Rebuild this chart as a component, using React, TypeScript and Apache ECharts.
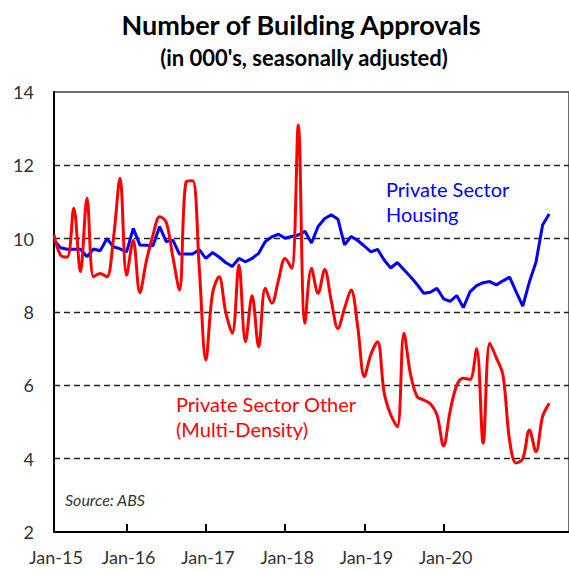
import React, { useEffect, useRef } from "react";
import * as echarts from "echarts";

// Month-end categories, Jan-15 .. Apr-21 (data), plus a few empty months so the plot runs past the right edge
const monthNames = ["Jan","Feb","Mar","Apr","May","Jun","Jul","Aug","Sep","Oct","Nov","Dec"];
const months: string[] = [];
for (let y = 15; y <= 21; y++) {
  for (let m = 0; m < 12; m++) {
    if (months.length < 79) months.push(`${monthNames[m]}-${y}`);
  }
}

// Tick labels and the category index each sits on (1 Jan falls just after each December month-end)
const tickLabels = ["Jan-15", "Jan-16", "Jan-17", "Jan-18", "Jan-19", "Jan-20"];
const tickIndex = [0, 11, 23, 35, 47, 59];

// Private Sector Housing (000's)
const housing = [
  9.95, 9.75, 9.71, 9.71, 9.71, 9.51, 9.72, 9.67, 10.0, 9.78, 9.72, 9.64,
  10.28, 9.83, 9.82, 9.81, 10.33, 9.92, 9.96, 9.58, 9.58, 9.58, 9.7, 9.46,
  9.62, 9.5, 9.35, 9.24, 9.46, 9.37, 9.46, 9.6, 9.92, 10.05, 10.12, 10.01,
  10.06, 10.1, 10.2, 9.88, 10.33, 10.55, 10.65, 10.53, 9.83, 10.06, 9.95, 9.8,
  9.64, 9.71, 9.42, 9.2, 9.35, 9.15, 8.96, 8.75, 8.51, 8.54, 8.65, 8.36,
  8.29, 8.45, 8.12, 8.55, 8.72, 8.8, 8.83, 8.74, 8.85, 8.95, 8.55, 8.16,
  8.82, 9.36, 10.37, 10.67,
];

// Private Sector Other (Multi-Density) (000's)
const other = [
  10.1, 9.55, 9.5, 10.83, 9.1, 11.1, 8.96, 9.05, 8.96, 10.0, 11.65, 9.0,
  9.95, 8.53, 9.4, 10.1, 10.6, 10.45, 9.5, 8.6, 11.55, 11.58, 9.2, 6.69,
  8.5, 8.96, 8.0, 7.42, 9.28, 7.19, 8.44, 7.05, 8.65, 8.24, 8.87, 9.46,
  9.19, 13.1, 7.69, 9.19, 8.51, 9.16, 8.3, 7.55, 8.1, 8.6, 7.6, 6.24,
  6.85, 7.19, 5.8, 5.2, 4.87, 7.42, 6.3, 5.69, 5.6, 5.5, 5.2, 4.35,
  5.3, 6.0, 6.19, 6.16, 7.0, 4.42, 7.15, 6.75, 6.28, 4.5, 3.88, 4.0,
  4.78, 4.19, 5.15, 5.51,
];

const FONT = "Lato, 'Noto Sans', sans-serif";

export default function App() {
  const ref = useRef<HTMLDivElement>(null);

  useEffect(() => {
    if (!ref.current) return;
    const chart = echarts.init(ref.current, undefined, { renderer: "svg" });
    const stepPx = 6.65;
    const option: any = {
      animation: false,
      backgroundColor: "#ffffff",
      grid: {
        left: 54,
        top: 92,
        width: stepPx * (months.length - 1),
        height: 440,
        show: true,
        borderColor: "#404040",
        borderWidth: 1.5,
        backgroundColor: "transparent",
      },
      xAxis: {
        type: "category",
        data: months,
        boundaryGap: false,
        axisLine: { show: true, lineStyle: { color: "#000", width: 2 } },
        axisTick: {
          show: true,
          inside: true,
          length: 8,
          interval: (idx: number) => idx > 0 && tickIndex.includes(idx),
          lineStyle: { color: "#000", width: 2 },
        },
        axisLabel: {
          interval: (idx: number) => tickIndex.includes(idx),
          formatter: (_v: string, idx: number) => {
            const k = tickIndex.indexOf(idx);
            return k >= 0 ? tickLabels[k] : "";
          },
          fontSize: 18,
          color: "#333",
          margin: 16,
          padding: [0, 0, 0, 4],
          fontFamily: FONT,
        },
        splitLine: { show: false },
      },
      yAxis: {
        type: "value",
        min: 2,
        max: 14,
        interval: 2,
        axisLine: { show: true, lineStyle: { color: "#000", width: 2 } },
        axisTick: { show: false },
        axisLabel: { fontSize: 18, color: "#333", margin: 20, fontFamily: FONT },
        splitLine: {
          show: true,
          lineStyle: {
            color: ["transparent", "#222", "#222", "#222", "#222", "#222", "transparent"],
            type: [6, 4],
            width: 1.3,
          },
        },
      },
      series: [
        {
          name: "Private Sector Housing",
          type: "line",
          data: housing,
          showSymbol: false,
          lineStyle: { color: "#0000FF", width: 3 },
          z: 2,
        },
        {
          name: "Private Sector Other (Multi-Density)",
          type: "line",
          data: other,
          smooth: 0.35,
          showSymbol: false,
          lineStyle: { color: "#FF0000", width: 3 },
          z: 3,
        },
      ],
      graphic: [
        {
          type: "text",
          x: 301,
          y: 24,
          style: {
            text: "Number of Building Approvals",
            font: `bold 27px ${FONT}`,
            fill: "#000",
            textAlign: "center",
            textVerticalAlign: "middle",
          },
        },
        {
          type: "text",
          x: 304,
          y: 57,
          style: {
            text: "(in 000's, seasonally adjusted)",
            font: `bold 22px ${FONT}`,
            fill: "#000",
            textAlign: "center",
            textVerticalAlign: "middle",
          },
        },
        {
          type: "text",
          x: 386,
          y: 189,
          style: { text: "Private Sector", font: `20px ${FONT}`, fill: "#0000FF", textVerticalAlign: "middle" },
        },
        {
          type: "text",
          x: 386,
          y: 214,
          style: { text: "Housing", font: `20px ${FONT}`, fill: "#0000FF", textVerticalAlign: "middle" },
        },
        {
          type: "text",
          x: 176,
          y: 404,
          style: { text: "Private Sector Other", font: `20px ${FONT}`, fill: "#FF0000", textVerticalAlign: "middle" },
        },
        {
          type: "text",
          x: 176,
          y: 429,
          style: { text: "(Multi-Density)", font: `20px ${FONT}`, fill: "#FF0000", textVerticalAlign: "middle" },
        },
        {
          type: "text",
          x: 65,
          y: 499,
          style: { text: "Source: ABS", font: `italic 16px ${FONT}`, fill: "#333", textVerticalAlign: "middle" },
        },
      ],
    };
    chart.setOption(option);
    return () => chart.dispose();
  }, []);

  return (
    <div
      ref={ref}
      style={{ position: "absolute", left: 0, top: 0, width: 569, height: 570, overflow: "hidden" }}
    />
  );
}
